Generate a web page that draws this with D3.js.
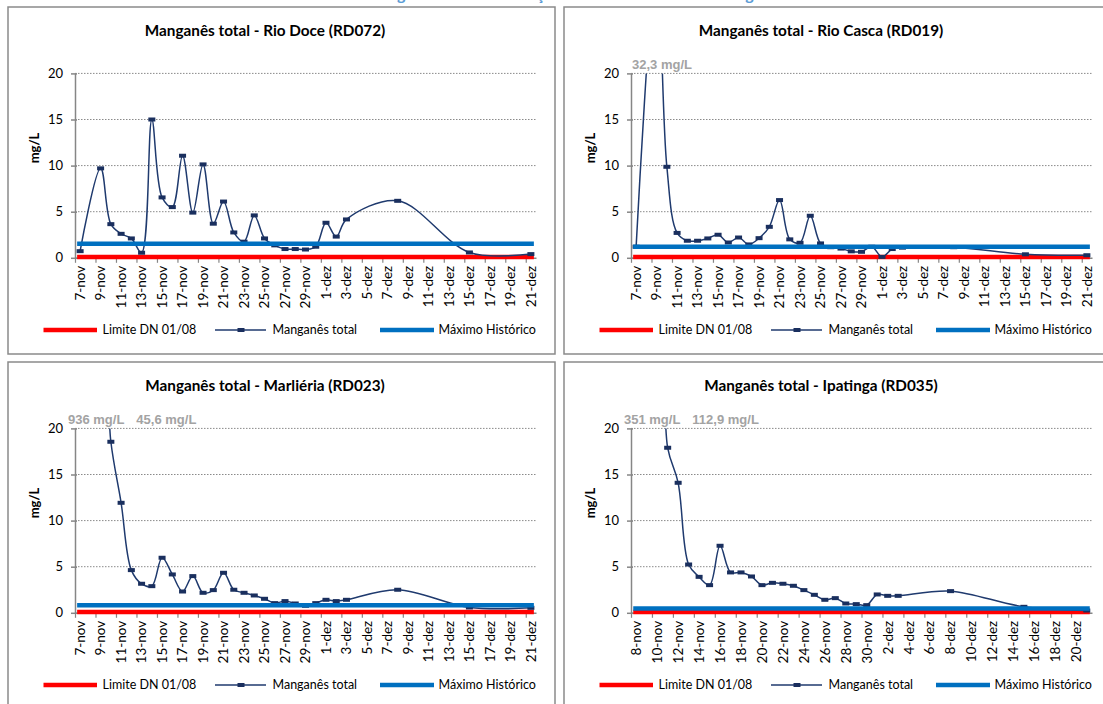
<!DOCTYPE html>
<html lang="pt">
<head>
<meta charset="UTF-8">
<title>Manganês total</title>
<style>
  body { margin: 0; background: #fff; }
  svg { display: block; }
  text { font-family: Lato, "Open Sans", sans-serif; fill: #000; }
  .grid line { stroke: #8a8a8a; stroke-width: 1; stroke-dasharray: 1.5,1.5; }
  .axis { stroke: #868686; stroke-width: 1.5; fill: none; }
  .peak { font-family: "Liberation Sans", Arial, sans-serif; font-weight: bold; font-size: 13px; fill: #a3a3a3; }
</style>
</head>
<body>
<div id="chart"></div>
<script src="https://d3js.org/d3.v7.min.js"></script>
<script>
// ---- data (mg/L) ----
var ticksNov7 = ["7-nov","9-nov","11-nov","13-nov","15-nov","17-nov","19-nov","21-nov","23-nov","25-nov","27-nov","29-nov",
                 "1-dez","3-dez","5-dez","7-dez","9-dez","11-dez","13-dez","15-dez","17-dez","19-dez","21-dez"];
var ticksNov8 = ["8-nov","10-nov","12-nov","14-nov","16-nov","18-nov","20-nov","22-nov","24-nov","26-nov","28-nov","30-nov",
                 "2-dez","4-dez","6-dez","8-dez","10-dez","12-dez","14-dez","16-dez","18-dez","20-dez"];

var rd072Dates = ["7-nov","9-nov","10-nov","11-nov","12-nov","13-nov","14-nov","15-nov","16-nov","17-nov","18-nov","19-nov","20-nov",
                  "21-nov","22-nov","23-nov","24-nov","25-nov","26-nov","27-nov","28-nov","29-nov","30-nov","1-dez","2-dez","3-dez",
                  "8-dez","15-dez","21-dez"];
var rd072Values = [0.72, 9.7, 3.65, 2.6, 2.1, 0.55, 15.0, 6.55, 5.5, 11.07, 4.9, 10.13, 3.7,
                   6.1, 2.75, 1.75, 4.6, 2.1, 1.35, 0.95, 0.95, 0.9, 1.2, 3.8, 2.3, 4.16,
                   6.18, 0.58, 0.4];

var rd019Dates = ["7-nov","9-nov","10-nov","11-nov","12-nov","13-nov","14-nov","15-nov","16-nov","17-nov","18-nov","19-nov","20-nov",
                  "21-nov","22-nov","23-nov","24-nov","25-nov","26-nov","27-nov","28-nov","29-nov","30-nov","1-dez","2-dez","3-dez",
                  "8-dez","15-dez","21-dez"];
var rd019Values = [1.2, 32.3, 9.87, 2.7, 1.85, 1.85, 2.1, 2.5, 1.66, 2.2, 1.45, 2.13, 3.36,
                   6.26, 2.0, 1.63, 4.56, 1.56, 1.15, 1.0, 0.7, 0.65, 1.2, 0.1, 0.95, 1.1,
                   1.15, 0.38, 0.28];

var rd023Dates = ["8-nov","9-nov","10-nov","11-nov","12-nov","13-nov","14-nov","15-nov","16-nov","17-nov","18-nov","19-nov","20-nov",
                  "21-nov","22-nov","23-nov","24-nov","25-nov","26-nov","27-nov","28-nov","29-nov","30-nov","1-dez","2-dez","3-dez",
                  "8-dez","15-dez","21-dez"];
var rd023Values = [936, 45.6, 18.55, 11.93, 4.63, 3.15, 2.89, 5.97, 4.16, 2.31, 3.98, 2.17, 2.46,
                   4.34, 2.5, 2.17, 1.88, 1.52, 1.05, 1.27, 1.01, 0.76, 1.05, 1.41, 1.27, 1.41,
                   2.5, 0.58, 0.54];

var rd035Dates = ["9-nov","10-nov","11-nov","12-nov","13-nov","14-nov","15-nov","16-nov","17-nov","18-nov","19-nov","20-nov",
                  "21-nov","22-nov","23-nov","24-nov","25-nov","26-nov","27-nov","28-nov","29-nov","30-nov","1-dez","2-dez","3-dez",
                  "8-dez","15-dez","21-dez"];
var rd035Values = [351, 112.9, 17.9, 14.1, 5.24, 3.9, 3.0, 7.27, 4.38, 4.38, 3.94, 3.0,
                   3.25, 3.15, 2.93, 2.46, 1.95, 1.41, 1.59, 1.01, 0.94, 0.83, 1.99, 1.84, 1.84,
                   2.35, 0.65, 0.25];

var limiteDN = 0.1;
var maximoHistorico = [1.52, 1.2, 0.83, 0.47];
var titles = ["Manganês total - Rio Doce (RD072)", "Manganês total - Rio Casca (RD019)",
              "Manganês total - Marliéria (RD023)", "Manganês total - Ipatinga (RD035)"];
var peakLabels = [[], ["32,3 mg/L"], ["936 mg/L", "45,6 mg/L"], ["351 mg/L", "112,9 mg/L"]];
var yTicks = [0, 5, 10, 15, 20];
var legendNames = ["Limite DN 01/08", "Manganês total", "Máximo Histórico"];

// ---- layout ----
var width = 1103, height = 704;
var panelW = 547, panelH = 347;
var plot = {left: 67, right: 528, top: 66.4, bottom: 250.8};
var DRAW_CAP = 33; // off-scale values drawn at this level (clipped anyway)

var months = {nov: 10, dez: 11};
function parseDay(s) {
  var p = s.split("-");
  return new Date(2015, months[p[1]], +p[0]);
}
function noon(s) { return d3.timeHour.offset(parseDay(s), 12); }

var panels = [
  {x: 8,   y: 7,   dates: rd072Dates, values: rd072Values, ticks: ticksNov7, start: "7-nov", end: "22-dez"},
  {x: 564, y: 7,   dates: rd019Dates, values: rd019Values, ticks: ticksNov7, start: "7-nov", end: "22-dez"},
  {x: 8,   y: 362, dates: rd023Dates, values: rd023Values, ticks: ticksNov7, start: "7-nov", end: "22-dez"},
  {x: 564, y: 362, dates: rd035Dates, values: rd035Values, ticks: ticksNov8, start: "8-nov", end: "22-dez"}
];

var svg = d3.select("#chart").append("svg")
    .attr("width", width)
    .attr("height", height);

// page heading, cut off at the top edge as in the source
svg.append("text")
    .attr("x", 580).attr("y", 0)
    .attr("text-anchor", "middle")
    .style("font-size", "16px").style("font-weight", "bold").style("fill", "#5b9bd5")
    .text("Manganês total nas estações de monitoramento emergencial");

panels.forEach(function(p, i) {
  var g = svg.append("g").attr("transform", "translate(" + p.x + "," + p.y + ")");

  g.append("rect")
      .attr("x", 0).attr("y", 0)
      .attr("width", panelW).attr("height", panelH)
      .attr("fill", "#fff").attr("stroke", "#8a8a8a").attr("stroke-width", 1.5);

  var x = d3.scaleTime()
      .domain([parseDay(p.start), parseDay(p.end)])
      .range([plot.left, plot.right]);
  var y = d3.scaleLinear().domain([0, 20]).range([plot.bottom, plot.top]);

  // title
  g.append("text")
      .attr("x", 257).attr("y", 29)
      .attr("text-anchor", "middle")
      .style("font-size", "15.3px").style("font-weight", "bold")
      .text(titles[i]);

  // grid
  g.append("g").attr("class", "grid")
    .selectAll("line").data(yTicks.filter(function(d) { return d > 0; }))
    .enter().append("line")
      .attr("x1", plot.left).attr("x2", plot.right)
      .attr("y1", function(d) { return y(d); })
      .attr("y2", function(d) { return y(d); });

  // y axis
  var yAxis = g.append("g").attr("transform", "translate(" + plot.left + ",0)")
      .call(d3.axisLeft(y).tickValues(yTicks).tickSizeInner(4).tickSizeOuter(0).tickPadding(8));
  yAxis.select(".domain").attr("class", "axis domain");
  yAxis.selectAll(".tick line").attr("stroke", "#868686").attr("stroke-width", 1.5).attr("x2", -4).attr("x1", 2);
  yAxis.selectAll(".tick text").style("font-size", "13px").style("font-family", "Lato, sans-serif").attr("fill", "#000");

  // x axis
  var tickDates = p.ticks.map(parseDay);
  var xAxis = g.append("g").attr("transform", "translate(0," + plot.bottom + ")")
      .call(d3.axisBottom(x).tickValues(tickDates).tickSizeInner(5).tickSizeOuter(0).tickFormat(""));
  xAxis.select(".domain").attr("class", "axis domain");
  xAxis.selectAll(".tick line").attr("stroke", "#868686").attr("stroke-width", 1.2);

  g.append("g").selectAll("text").data(p.ticks)
    .enter().append("text")
      .attr("transform", function(d) { return "translate(" + x(noon(d)) + "," + (plot.bottom + 8) + ") rotate(-90)"; })
      .attr("dy", "0.36em")
      .attr("text-anchor", "end")
      .style("font-size", "13.5px")
      .text(function(d) { return d; });

  // y axis title
  g.append("text")
      .attr("transform", "translate(26,141) rotate(-90)")
      .attr("text-anchor", "middle")
      .attr("dy", "0.35em")
      .style("font-size", "13px").style("font-weight", "bold")
      .text("mg/L");

  // series
  var pts = p.dates.map(function(d, k) { return {date: noon(d), value: p.values[k]}; });
  var first = noon(p.start), last = pts[pts.length - 1].date;

  var clipId = "clip" + i;
  g.append("clipPath").attr("id", clipId)
    .append("rect")
      .attr("x", plot.left).attr("y", plot.top)
      .attr("width", plot.right - plot.left + 6).attr("height", plot.bottom - plot.top + 10);

  var series = g.append("g").attr("clip-path", "url(#" + clipId + ")");

  series.append("line")
      .attr("x1", x(first) - 3).attr("x2", x(last) + 3)
      .attr("y1", y(limiteDN)).attr("y2", y(limiteDN))
      .attr("stroke", "#ff0000").attr("stroke-width", 4.5);

  var line = d3.line()
      .x(function(d) { return x(d.date); })
      .y(function(d) { return y(Math.min(d.value, DRAW_CAP)); })
      .curve(d3.curveCatmullRom.alpha(0.5));

  series.append("path")
      .datum(pts)
      .attr("d", line)
      .attr("fill", "none")
      .attr("stroke", "#1f3a6e")
      .attr("stroke-width", 1.5);

  series.selectAll("rect.mk").data(pts)
    .enter().append("rect")
      .attr("class", "mk")
      .attr("x", function(d) { return x(d.date) - 3.5; })
      .attr("y", function(d) { return y(Math.min(d.value, DRAW_CAP)) - 2; })
      .attr("width", 7).attr("height", 4)
      .attr("fill", "#1a2f5e");

  series.append("line")
      .attr("x1", x(first) - 3).attr("x2", x(last) + 3)
      .attr("y1", y(maximoHistorico[i])).attr("y2", y(maximoHistorico[i]))
      .attr("stroke", "#0070c0").attr("stroke-width", 4.5);

  // off-scale values
  var px = peakLabels[i].length > 1 ? 60 : 68;
  peakLabels[i].forEach(function(t) {
    var tx = g.append("text").attr("class", "peak")
        .attr("x", px).attr("y", 62)
        .text(t);
    px += tx.node().getComputedTextLength() + 12;
  });

  // legend
  var lg = g.append("g").attr("transform", "translate(0,323)");
  lg.append("line").attr("x1", 35.5).attr("x2", 89).attr("y1", 0).attr("y2", 0)
      .attr("stroke", "#ff0000").attr("stroke-width", 4.5);
  lg.append("text").attr("x", 94.5).attr("y", 0).attr("dy", "0.35em")
      .style("font-size", "12.5px").text(legendNames[0]);
  lg.append("line").attr("x1", 207).attr("x2", 258).attr("y1", 0).attr("y2", 0)
      .attr("stroke", "#1f3a6e").attr("stroke-width", 1.5);
  lg.append("rect").attr("x", 229.5).attr("y", -2).attr("width", 7).attr("height", 4).attr("fill", "#1a2f5e");
  lg.append("text").attr("x", 264.5).attr("y", 0).attr("dy", "0.35em")
      .style("font-size", "12.5px").text(legendNames[1]);
  lg.append("line").attr("x1", 372).attr("x2", 426).attr("y1", 0).attr("y2", 0)
      .attr("stroke", "#0070c0").attr("stroke-width", 4.5);
  lg.append("text").attr("x", 430.6).attr("y", 0).attr("dy", "0.35em")
      .style("font-size", "12.5px").text(legendNames[2]);
});
</script>
</body>
</html>
